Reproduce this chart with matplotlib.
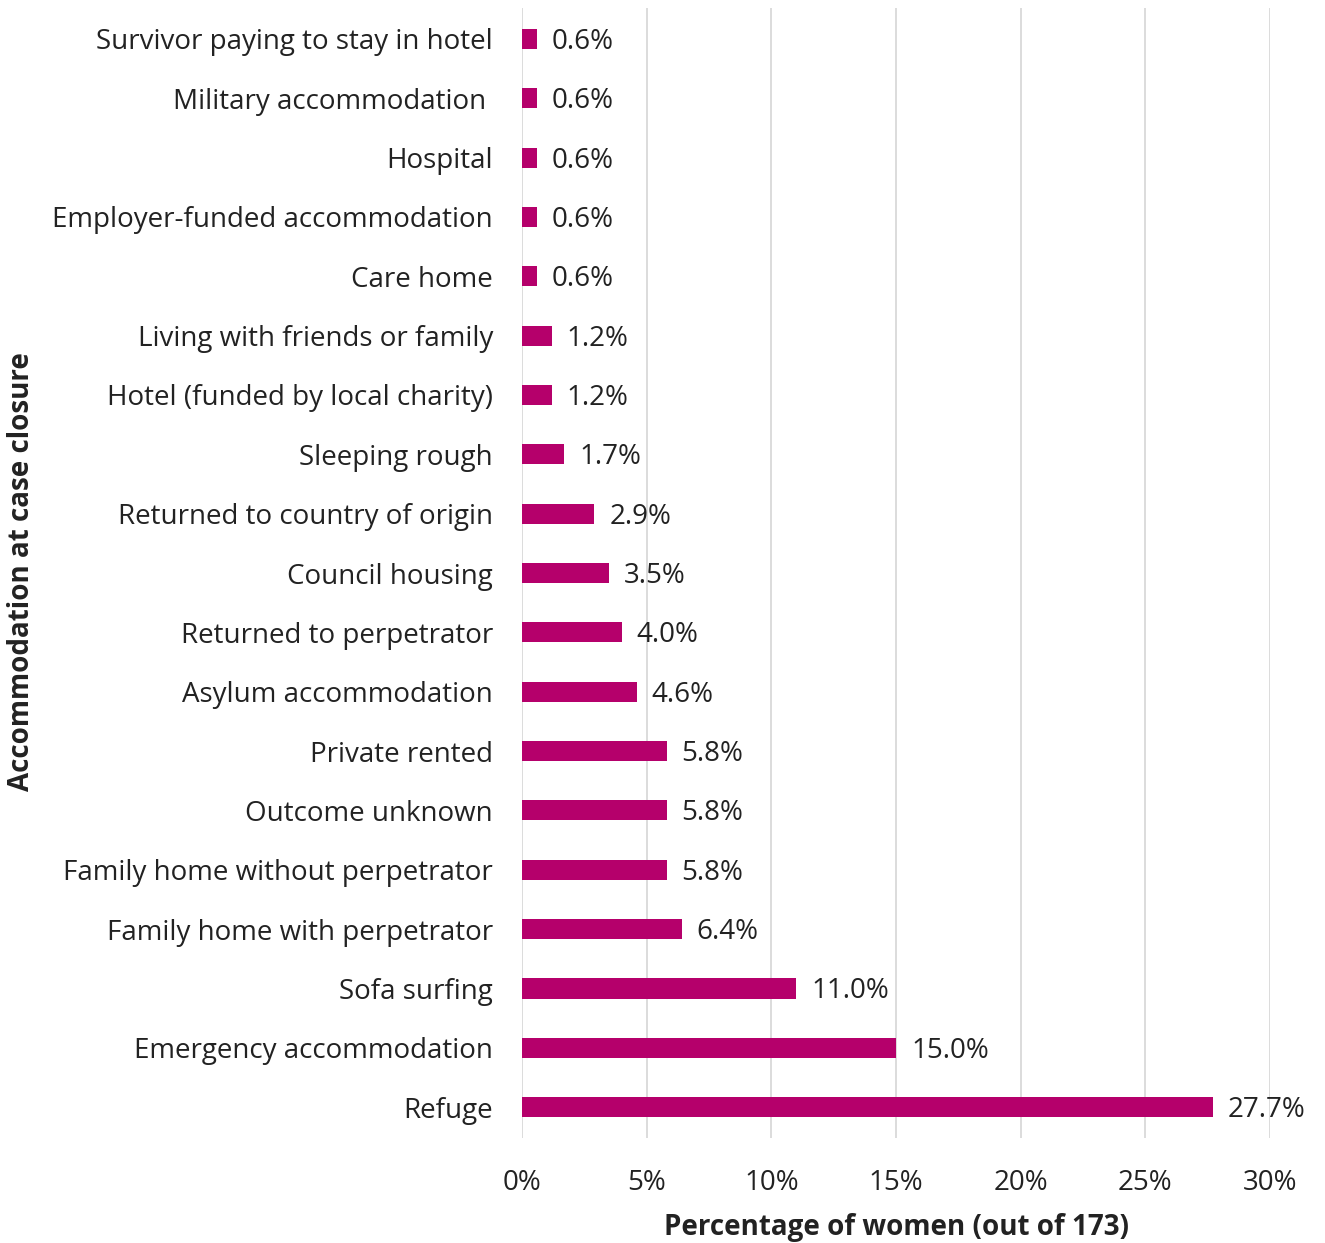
import matplotlib
matplotlib.use("Agg")
import matplotlib.pyplot as plt
from matplotlib.ticker import FuncFormatter

plt.rcParams['font.family'] = ['Open Sans', 'DejaVu Sans']

# 위에서 아래 순서 (그림 기준)
categories = [
    "Survivor paying to stay in hotel",
    "Military accommodation ",
    "Hospital",
    "Employer-funded accommodation",
    "Care home",
    "Living with friends or family",
    "Hotel (funded by local charity)",
    "Sleeping rough",
    "Returned to country of origin",
    "Council housing",
    "Returned to perpetrator",
    "Asylum accommodation",
    "Private rented",
    "Outcome unknown",
    "Family home without perpetrator",
    "Family home with perpetrator",
    "Sofa surfing",
    "Emergency accommodation",
    "Refuge",
]
values = [0.6, 0.6, 0.6, 0.6, 0.6, 1.2, 1.2, 1.7, 2.9, 3.5, 4.0, 4.6,
          5.8, 5.8, 5.8, 6.4, 11.0, 15.0, 27.7]
x_ticks = [0, 5, 10, 15, 20, 25, 30]

BAR_COLOR = "#B5006B"
TEXT_COLOR = "#222222"
FS = 20

fig = plt.figure(figsize=(13.25, 12.43), dpi=100)
ax = fig.add_axes([0.394, 0.0845, 0.5645, 0.909])

n = len(categories)
ypos = list(range(n - 1, -1, -1))
ax.barh(ypos, values, height=0.34, color=BAR_COLOR, zorder=3)

# 값 라벨
for y, v in zip(ypos, values):
    ax.text(v + 0.6, y - 0.05, f"{v:.1f}%", va='center', ha='left',
            fontsize=FS, color=TEXT_COLOR)

ax.set_yticks(ypos)
ax.set_yticklabels(categories, fontsize=FS, color=TEXT_COLOR)
ax.set_xticks(x_ticks)
ax.xaxis.set_major_formatter(FuncFormatter(lambda v, p: f"{v:.0f}%"))
ax.tick_params(axis='x', labelsize=FS, colors=TEXT_COLOR, length=0, pad=22)
ax.tick_params(axis='y', length=0, pad=21)

ax.set_xlim(0, 30)
ax.set_ylim(-0.52, n - 1 + 0.52)
ax.grid(axis='x', color='#D9D9D9', linewidth=1.3, zorder=0)
for s in ax.spines.values():
    s.set_visible(False)

# 축 제목
fig.text(896 / 1325, 1 - 1227 / 1243, "Percentage of women (out of 173)",
         fontsize=FS, fontweight='bold', color=TEXT_COLOR,
         ha='center', va='center')
fig.text(22 / 1325, 1 - 572 / 1243, "Accommodation at case closure",
         fontsize=FS, fontweight='bold', color=TEXT_COLOR,
         ha='center', va='center', rotation=90)

fig.savefig("out.png", dpi=100)
